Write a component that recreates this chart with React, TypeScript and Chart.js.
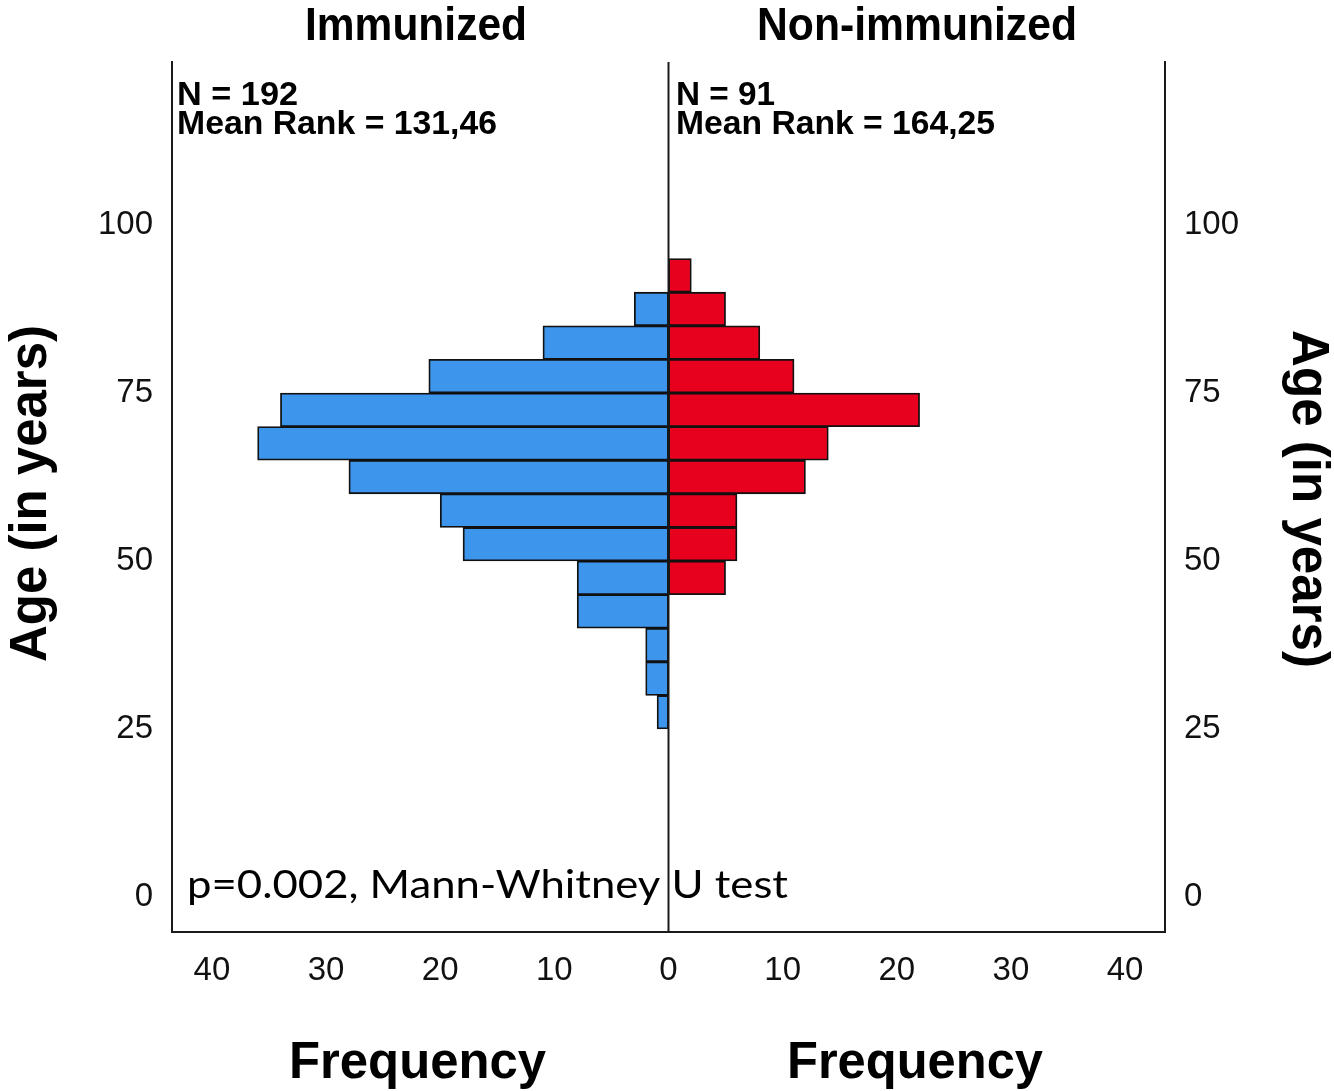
import React, { useEffect, useRef } from "react";
import { Chart, registerables } from "chart.js";

Chart.register(...registerables);

// Age bins (5-year wide), given by their midpoints
const AGE_BIN_LABELS = ["25-30", "30-35", "35-40", "40-45", "45-50", "50-55", "55-60", "60-65", "65-70", "70-75", "75-80", "80-85", "85-90", "90-95"];
const AGE_BIN_MIDS = [27.5, 32.5, 37.5, 42.5, 47.5, 52.5, 57.5, 62.5, 67.5, 72.5, 77.5, 82.5, 87.5, 92.5];
const IMMUNIZED = [1, 2, 2, 8, 8, 18, 20, 28, 36, 34, 21, 11, 3, 0];
const NON_IMMUNIZED = [0, 0, 0, 0, 5, 6, 6, 12, 14, 22, 11, 8, 5, 2];

const AGE_TICKS = [0, 25, 50, 75, 100];
const FREQ_TICKS = [-40, -30, -20, -10, 0, 10, 20, 30, 40];

const TITLE_LEFT = "Immunized";
const TITLE_RIGHT = "Non-immunized";
const STATS_LEFT = ["N = 192", "Mean Rank = 131,46"];
const STATS_RIGHT = ["N = 91", "Mean Rank = 164,25"];
const X_TITLE = "Frequency";
const Y_TITLE = "Age (in years)";
const NOTE = "p=0.002, Mann-Whitney U test";

const BLUE = "#3d95ec";
const RED = "#e8001f";
const BOLD = "'Liberation Sans', Arial, sans-serif";

function fitText(
  ctx: CanvasRenderingContext2D,
  text: string,
  x: number,
  y: number,
  font: string,
  width: number,
  align: CanvasTextAlign,
  rot = 0
) {
  ctx.save();
  ctx.translate(x, y);
  ctx.rotate(rot);
  ctx.font = font;
  const w = ctx.measureText(text).width;
  ctx.scale(width / w, 1);
  ctx.textAlign = align;
  ctx.textBaseline = "alphabetic";
  ctx.fillStyle = "#000";
  ctx.fillText(text, 0, 0);
  ctx.restore();
}

const textPlugin = {
  id: "texts",
  afterDatasetsDraw(chart: any) {
    const { ctx, chartArea, scales } = chart;
    const x0 = scales.x.getPixelForValue(0);
    ctx.save();
    ctx.strokeStyle = "#1a1a1a";
    ctx.lineWidth = 2;
    ctx.beginPath();
    ctx.moveTo(x0, chartArea.top);
    ctx.lineTo(x0, chartArea.bottom);
    ctx.stroke();
    ctx.restore();
  },
  afterDraw(chart: any) {
    const ctx: CanvasRenderingContext2D = chart.ctx;
    fitText(ctx, TITLE_LEFT, 416, 40, `bold 46px ${BOLD}`, 222, "center");
    fitText(ctx, TITLE_RIGHT, 917, 40, `bold 46px ${BOLD}`, 320, "center");
    fitText(ctx, X_TITLE, 417.5, 1078, `bold 52px ${BOLD}`, 257, "center");
    fitText(ctx, X_TITLE, 915, 1078, `bold 52px ${BOLD}`, 256, "center");
    fitText(ctx, Y_TITLE, 46, 493.5, `bold 51px ${BOLD}`, 337, "center", -Math.PI / 2);
    fitText(ctx, Y_TITLE, 1293, 499, `bold 51px ${BOLD}`, 338, "center", Math.PI / 2);
    fitText(ctx, STATS_LEFT[0], 177, 105, `bold 34px ${BOLD}`, 121, "left");
    fitText(ctx, STATS_LEFT[1], 177, 134, `bold 34px ${BOLD}`, 320, "left");
    fitText(ctx, STATS_RIGHT[0], 676, 105, `bold 34px ${BOLD}`, 99, "left");
    fitText(ctx, STATS_RIGHT[1], 676, 134, `bold 34px ${BOLD}`, 319, "left");
    fitText(ctx, NOTE, 187, 898, `39px Lato, 'Open Sans', sans-serif`, 601, "left");
  },
};

export default function App() {
  const ref = useRef<HTMLCanvasElement | null>(null);

  useEffect(() => {
    if (!ref.current) return;
    const tickFont = { family: BOLD, size: 33 };
    const chart = new Chart(ref.current, {
      type: "bar",
      data: {
        labels: AGE_BIN_LABELS,
        datasets: [
          {
            label: TITLE_LEFT,
            data: AGE_BIN_MIDS.map((m, i) => ({ y: m, x: IMMUNIZED[i] ? -IMMUNIZED[i] : null })) as any,
            backgroundColor: BLUE,
            borderColor: "#111",
            borderWidth: 1.8,
            borderSkipped: false,
            grouped: false,
            barPercentage: 1,
            categoryPercentage: 1,
          },
          {
            label: TITLE_RIGHT,
            data: AGE_BIN_MIDS.map((m, i) => ({ y: m, x: NON_IMMUNIZED[i] ? NON_IMMUNIZED[i] : null })) as any,
            backgroundColor: RED,
            borderColor: "#111",
            borderWidth: 1.8,
            borderSkipped: false,
            grouped: false,
            barPercentage: 1,
            categoryPercentage: 1,
          },
        ],
      },
      options: {
        indexAxis: "y",
        responsive: false,
        animation: false,
        layout: { padding: { top: 62, left: 0, right: 0, bottom: 0 } },
        plugins: { legend: { display: false }, tooltip: { enabled: false } },
        scales: {
          x: {
            type: "linear",
            position: "bottom",
            min: -43.5,
            max: 43.5,
            offset: false,
            grid: { display: false, drawTicks: false },
            border: { display: true, color: "#1a1a1a", width: 2 },
            afterBuildTicks: (s: any) => {
              s.ticks = FREQ_TICKS.map((v) => ({ value: v }));
            },
            afterFit: (s: any) => {
              s.height = 159;
            },
            ticks: {
              autoSkip: false,
              maxRotation: 0,
              padding: 19,
              color: "#111",
              font: tickFont,
              callback: (v: any) => String(Math.abs(Number(v))),
            },
          },
          y: {
            type: "linear",
            position: "left",
            min: -5.2,
            max: 124.25,
            offset: false,
            grid: { display: false, drawTicks: false, offset: false },
            border: { display: true, color: "#1a1a1a", width: 2 },
            afterBuildTicks: (s: any) => {
              s.ticks = AGE_TICKS.map((v) => ({ value: v }));
            },
            afterFit: (s: any) => {
              s.width = 172;
            },
            ticks: { autoSkip: false, padding: 19, color: "#111", font: tickFont },
          },
          y2: {
            type: "linear",
            position: "right",
            min: -5.2,
            max: 124.25,
            offset: false,
            grid: { display: false, drawTicks: false, offset: false },
            border: { display: true, color: "#1a1a1a", width: 2 },
            afterBuildTicks: (s: any) => {
              s.ticks = AGE_TICKS.map((v) => ({ value: v }));
            },
            afterFit: (s: any) => {
              s.width = 169;
            },
            ticks: { autoSkip: false, padding: 19, color: "#111", font: tickFont },
          },
        },
      } as any,
      plugins: [textPlugin],
    });
    return () => chart.destroy();
  }, []);

  return (
    <div style={{ position: "absolute", left: 0, top: 0, width: 1334, height: 1091, background: "#fff" }}>
      <canvas ref={ref} width={1334} height={1091} />
    </div>
  );
}
